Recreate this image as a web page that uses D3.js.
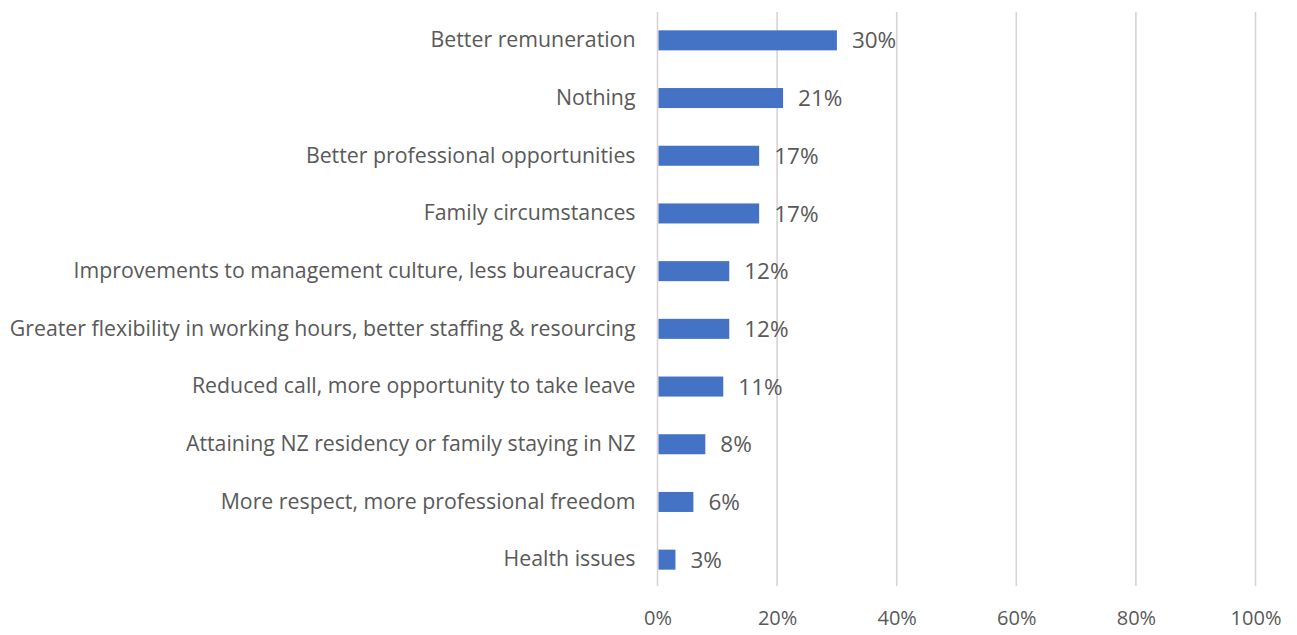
<!DOCTYPE html>
<html>
<head>
<meta charset="utf-8">
<script src="https://cdn.jsdelivr.net/npm/d3@7"></script>
<style>
  html, body { margin: 0; padding: 0; background: #fff; }
  svg text { font-family: "Open Sans", Lato, sans-serif; fill: #595959; }
</style>
</head>
<body>
<svg id="chart" width="1297" height="635"></svg>
<script>
// Reasons that would keep respondents in their current job (share of respondents)
const categories = [
  "Better remuneration",
  "Nothing",
  "Better professional opportunities",
  "Family circumstances",
  "Improvements to management culture, less bureaucracy",
  "Greater flexibility in working hours, better staffing & resourcing",
  "Reduced call, more opportunity to take leave",
  "Attaining NZ residency or family staying in NZ",
  "More respect, more professional freedom",
  "Health issues"
];
const values = [30, 21, 17, 17, 12, 12, 11, 8, 6, 3];
const tickValues = [0, 20, 40, 60, 80, 100];

const svg = d3.select("#chart");
const plot = { left: 657.5, right: 1255.5, top: 11.5, bottom: 588.5 };
const font = "'Open Sans', Lato, sans-serif";

const x = d3.scaleLinear().domain([0, 100]).range([plot.left, plot.right]);
const y = d3.scaleBand().domain(categories).range([plot.top, plot.bottom]).paddingInner(0.653).paddingOuter(0.3265);

// vertical gridlines
svg.append("g")
  .selectAll("line")
  .data(tickValues)
  .join("line")
  .attr("x1", d => x(d)).attr("x2", d => x(d))
  .attr("y1", 12).attr("y2", 586)
  .attr("stroke", "#d9d3d3")
  .attr("stroke-width", 1.6);

// x axis tick labels
const xAxis = d3.axisBottom(x).tickValues(tickValues).tickFormat(d => d + "%").tickSize(0).tickPadding(0);
const gx = svg.append("g").attr("transform", "translate(0,611)").call(xAxis);
gx.select(".domain").remove();
gx.selectAll("text").attr("font-size", 20).attr("font-family", font).attr("fill", "#6b6463");

// category labels
const yAxis = d3.axisLeft(y).tickSize(0).tickPadding(22);
const gy = svg.append("g").attr("transform", `translate(${plot.left},0)`).call(yAxis);
gy.select(".domain").remove();
gy.selectAll("text").attr("font-size", 21.3).attr("font-family", font).attr("fill", "#595959");

// bars
svg.append("g")
  .selectAll("rect")
  .data(values)
  .join("rect")
  .attr("x", x(0) + 1)
  .attr("y", (d, i) => y(categories[i]))
  .attr("width", d => x(d) - x(0) - 1)
  .attr("height", y.bandwidth())
  .attr("fill", "#4472c4");

// value labels
svg.append("g")
  .selectAll("text")
  .data(values)
  .join("text")
  .attr("x", d => x(d) + 15)
  .attr("y", (d, i) => y(categories[i]) + y.bandwidth() / 2)
  .attr("dy", "0.36em")
  .attr("font-size", 22.5)
  .attr("font-family", font)
  .text(d => d + "%");
</script>
</body>
</html>
